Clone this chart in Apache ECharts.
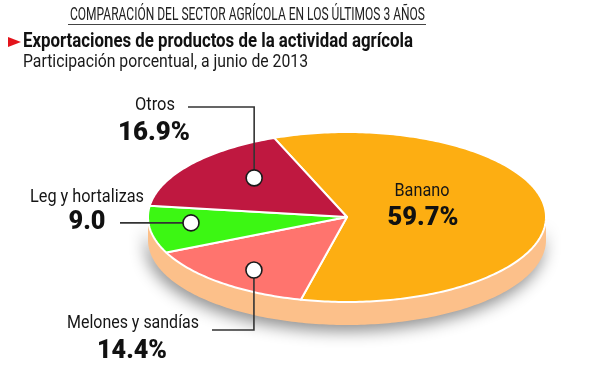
<!DOCTYPE html>
<html><head><meta charset="utf-8">
<script src="https://cdn.jsdelivr.net/npm/echarts@6/dist/echarts.min.js"></script>
<style>html,body{margin:0;padding:0;background:#fff}#c{width:600px;height:390px}</style>
</head><body><div id="c"></div>
<script>
// ---- data ----
const categories = ['Banano', 'Melones y sandías', 'Leg y hortalizas', 'Otros'];
const values = [59.7, 14.4, 9.0, 16.9];
const valueLabels = ['59.7%', '14.4%', '9.0', '16.9%'];
const headerText = 'COMPARACIÓN DEL SECTOR AGRÍCOLA EN LOS ÚLTIMOS 3 AÑOS';
const titleText = 'Exportaciones de productos de la actividad agrícola';
const subtitleText = 'Participación porcentual, a junio de 2013';

// ---- styles / layout ----
const colors = ['#FDAE12', '#FF746E', '#3CF713', '#BF1840'];
const sideColor = '#FCC08A';
const PIE = { cx: 347, cy: 217, rx: 199, ry: 85, depth: 23, start: 111.5 };
const FONT = 'Roboto,"Liberation Sans",sans-serif';
const NAME_FONT = '19px ' + FONT;
const VAL_FONT = '900 25px ' + FONT;
// label boxes: centre x, middle y, target width
const callouts = [
  { type: 'inside', name: [422, 191, 55], value: [423, 219, 71] },
  { type: 'below', shift: 2.5, r: 0.78, lineY: 330, endX: 212, name: [133, 323, 132], value: [132, 352, 70] },
  { type: 'left', shift: -3.5, r: 0.787, endX: 120, name: [87, 197, 114], value: [87, 223, 37] },
  { type: 'above', shift: -6.5, r: 0.655, lineY: 107, endX: 188, name: [155, 105, 40], value: [154, 134, 72] }
];

const mctx = document.createElement('canvas').getContext('2d');
function fitScale(text, font, w) { mctx.font = font; return w / mctx.measureText(text).width; }

const total = values.reduce((a, b) => a + b, 0);
const pieData = [];
let acc = PIE.start;
values.forEach((v, i) => {
  const sweep = v / total * 360;
  pieData.push({ name: categories[i], value: [v, acc, acc - sweep] });
  acc -= sweep;
});

function pt(aDeg, r, dy) {
  const a = aDeg * Math.PI / 180;
  return [PIE.cx + r * PIE.rx * Math.cos(a), PIE.cy - r * PIE.ry * Math.sin(a) + (dy || 0)];
}

function renderSide(params, api) {
  const pts = [];
  for (let a = 180; a <= 360; a += 1) pts.push(pt(a, 1, 0));
  for (let a = 360; a >= 180; a -= 1) pts.push(pt(a, 1, PIE.depth));
  return {
    type: 'polygon',
    shape: { points: pts },
    style: { fill: sideColor, shadowBlur: 16, shadowColor: 'rgba(0,0,0,0.45)', shadowOffsetY: 6, shadowOffsetX: -2 }
  };
}

function label(text, font, box, fill) {
  return {
    type: 'text', x: box[0], y: box[1], scaleX: fitScale(text, font, box[2]),
    style: { text: text, x: 0, y: 0, font: font, fill: fill, align: 'center', verticalAlign: 'middle' }
  };
}

function renderTop(params, api) {
  const i = params.dataIndex;
  const a0 = api.value(1), a1 = api.value(2);
  const pts = [[PIE.cx, PIE.cy]];
  const n = Math.max(2, Math.ceil(Math.abs(a0 - a1)));
  for (let k = 0; k <= n; k++) pts.push(pt(a0 + (a1 - a0) * k / n, 1, 0));
  const children = [{
    type: 'polygon', shape: { points: pts },
    style: { fill: colors[i], stroke: '#fff', lineWidth: 2, lineJoin: 'round' }
  }];
  const c = callouts[i];
  if (c.type !== 'inside') {
    const p = pt((a0 + a1) / 2 + c.shift, c.r, 0);
    let line;
    if (c.type === 'left') line = [[c.endX, p[1]], p];
    else line = [[c.endX, c.lineY], [p[0], c.lineY], p];
    children.push({ type: 'polyline', shape: { points: line }, style: { stroke: '#333', lineWidth: 1.6, fill: null } });
    children.push({ type: 'circle', shape: { cx: p[0], cy: p[1], r: 8 }, style: { fill: '#fff', stroke: '#1a1a1a', lineWidth: 1.6 } });
  }
  children.push(label(categories[i], NAME_FONT, c.name, '#151515'));
  children.push(label(valueLabels[i], VAL_FONT, c.value, '#111'));
  return { type: 'group', children };
}

const HDR_FONT = '19px ' + FONT, TTL_FONT = 'bold 20.5px ' + FONT, SUB_FONT = '17.5px ' + FONT;
const chart = echarts.init(document.getElementById('c'), null, { renderer: 'canvas' });
chart.setOption({
  backgroundColor: '#fff',
  animation: false,
  graphic: [
    { type: 'text', x: 70, y: 15.5, scaleX: fitScale(headerText, HDR_FONT, 355), style: { text: headerText, x: 0, y: 0, font: HDR_FONT, fill: '#222', align: 'left', verticalAlign: 'middle' } },
    { type: 'line', shape: { x1: 68, y1: 24.5, x2: 426, y2: 24.5 }, style: { stroke: '#444', lineWidth: 1 } },
    { type: 'polygon', shape: { points: [[8, 37], [21, 42], [8, 47]] }, style: { fill: '#E3141C' } },
    { type: 'text', x: 23, y: 41.5, scaleX: fitScale(titleText, TTL_FONT, 390), style: { text: titleText, x: 0, y: 0, font: TTL_FONT, fill: '#111', align: 'left', verticalAlign: 'middle' } },
    { type: 'text', x: 23, y: 63, scaleX: fitScale(subtitleText, SUB_FONT, 285), style: { text: subtitleText, x: 0, y: 0, font: SUB_FONT, fill: '#1a1a1a', align: 'left', verticalAlign: 'middle' } }
  ],
  series: [
    { type: 'custom', coordinateSystem: 'none', renderItem: renderSide, data: [[total]], silent: true },
    { type: 'custom', coordinateSystem: 'none', renderItem: renderTop, data: pieData, silent: true }
  ]
});
</script></body></html>
